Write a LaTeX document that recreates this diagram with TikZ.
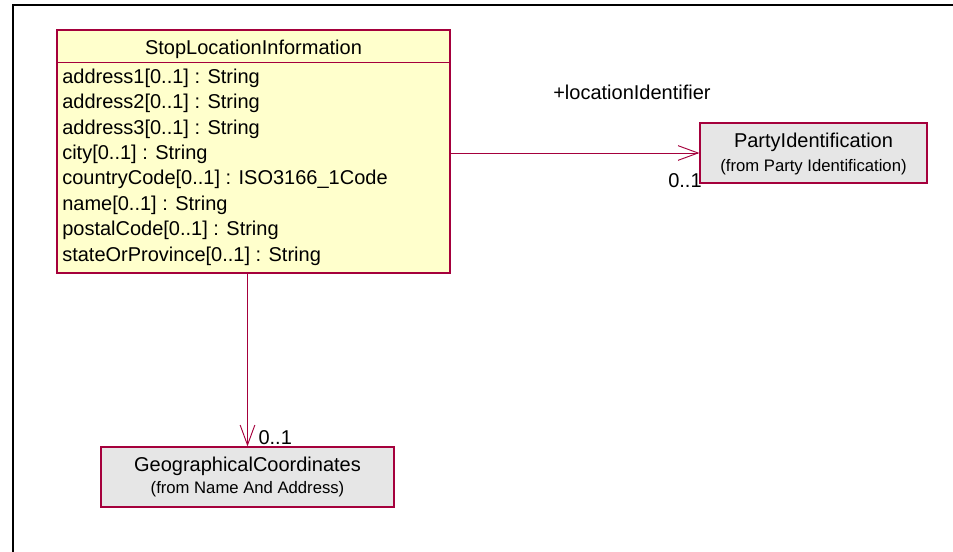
\documentclass[tikz,border=0pt]{standalone}
\usepackage{fontspec}
\setmainfont{Liberation Sans}
\usetikzlibrary{positioning, arrows.meta}

\definecolor{umlborder}{RGB}{165,0,60}
\definecolor{classfill}{RGB}{255,255,204}
\definecolor{reffill}{RGB}{230,230,230}

\begin{document}
\begin{tikzpicture}[
    x=0.75pt, y=-0.75pt,
    every node/.style={inner sep=0pt, font=\fontsize{15}{17}\selectfont},
    classbox/.style={draw=umlborder, fill=classfill, line width=0.9pt},
    refbox/.style={draw=umlborder, fill=reffill, line width=0.9pt},
    attr/.style={anchor=base west},
    fromtext/.style={anchor=base, font=\fontsize{12.5}{14}\selectfont},
    assoc/.style={draw=umlborder, line width=0.7pt, -{Straight Barb[length=15pt, width=11pt]}},
]
  \useasboundingbox (0,0) rectangle (953,552);
  \draw[line width=1.75pt] (13,552) -- (13,5) -- (953,5);

  % class with its attributes
  \node[classbox, minimum width=294.75pt, minimum height=182.25pt] (sli) at (253.5,151.5) {};
  \node[anchor=base] (slititle) at (253.5,55) {StopLocationInformation};
  \draw[umlborder, line width=0.9pt] (sli.north west) ++(0,33) -- ++(393,0);
  \foreach \attr [count=\i] in {address1[0..1] : String, address2[0..1] : String,
      address3[0..1] : String, city[0..1] : String, countryCode[0..1] : ISO3166\_1Code,
      name[0..1] : String, postalCode[0..1] : String, stateOrProvince[0..1] : String}
    \node[attr] (attr\i) at (62,{58.2+25.36*\i}) {\attr};

  % referenced classes
  \node[refbox, minimum width=170.25pt, minimum height=45pt] (party) at (813.5,153) {};
  \node[anchor=base] (partyname) at (813.5,147.3) {PartyIdentification};
  \node[fromtext] (partyfrom) at (813.5,171.7) {(from Party Identification)};
  \node[refbox, minimum width=219.75pt, minimum height=45pt] (geo) at (247.5,477) {};
  \node[anchor=base] (geoname) at (247.5,471.7) {GeographicalCoordinates};
  \node[fromtext] (geofrom) at (247.5,493.3) {(from Name And Address)};

  \draw[assoc] (sli.east |- party.west) -- (party.west);
  \draw[assoc] (sli.south -| geo.north) -- (geo.north);
  \node[anchor=base west] (role) at (553,100) {+locationIdentifier};
  \node[anchor=base west] (partymult) at (668,187.3) {0..1};
  \node[anchor=base west] (geomult) at (258.3,444) {0..1};
\end{tikzpicture}
\end{document}
